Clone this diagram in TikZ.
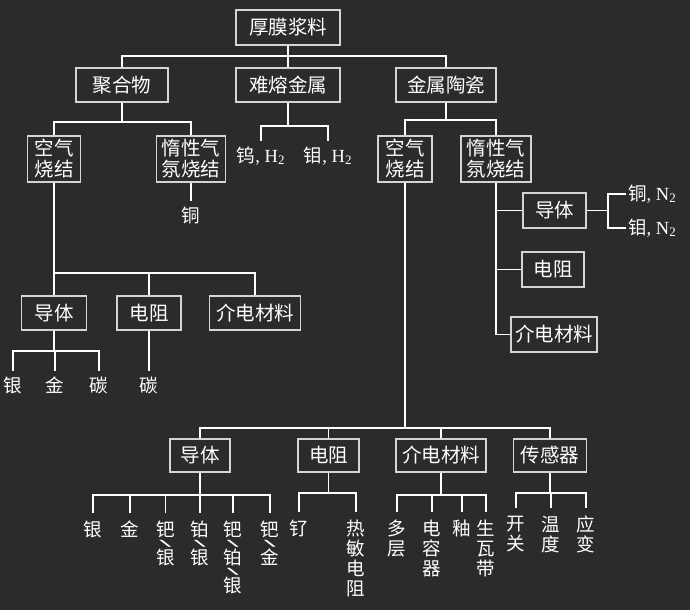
\documentclass[tikz,border=0pt]{standalone}
\usepackage{fontspec}
\setmainfont{Liberation Serif}
\newfontfamily\cjk{Noto Sans CJK SC}
\newfontfamily\slf{DejaVu Sans}
\definecolor{bgc}{HTML}{2B2B2B}
\definecolor{boxc}{HTML}{D4D4D4}
\newcommand{\vsl}{\\[-10pt]{\slf\fontsize{17}{17}\selectfont\scalebox{2.1}[0.5]{\textbackslash}}\\[-2pt]}
\tikzset{
  box/.style={draw=boxc, line width=1.1pt, fill=bgc, text=white, inner sep=0pt, align=center,
    font=\cjk\fontsize{19.5}{21}\selectfont},
  conn/.style={draw=white, line width=1.6pt},
  leaf/.style={text=white, inner xsep=2pt, inner ysep=5.5pt, align=center, anchor=north,
    font=\cjk\fontsize{18.5}{20}\selectfont},
  leafb/.style={leaf, inner ysep=8pt},
}
\begin{document}
\begin{tikzpicture}[x=1pt,y=-1pt]
\fill[bgc] (0,0) rectangle (690,610);
\useasboundingbox (0,0) rectangle (690,610);

% boxes
\node[box, minimum width=104pt, minimum height=35pt] (root) at (288,27.5) {厚膜浆料};
\node[box, minimum width=92pt, minimum height=34pt] (poly) at (122,85) {聚合物};
\node[box, minimum width=104pt, minimum height=34pt] (refr) at (288,85) {难熔金属};
\node[box, minimum width=100pt, minimum height=34pt] (cer) at (446,85) {金属陶瓷};
\node[box, minimum width=53pt, minimum height=46pt] (lair) at (54,159) {空气\\烧结};
\node[box, minimum width=69pt, minimum height=46pt] (linert) at (191,159) {惰性气\\氛烧结};
\node[box, minimum width=54pt, minimum height=46pt] (rair) at (405,159) {空气\\烧结};
\node[box, minimum width=70pt, minimum height=46pt] (rinert) at (496,159) {惰性气\\氛烧结};

\node[box, minimum width=65pt, minimum height=34pt] (lcond) at (54,313) {导体};
\node[box, minimum width=64pt, minimum height=34pt] (lres) at (149,313) {电阻};
\node[box, minimum width=91pt, minimum height=34pt] (ldiel) at (255,313) {介电材料};

\node[box, minimum width=63pt, minimum height=35pt] (rcond) at (554.5,210.5) {导体};
\node[box, minimum width=62pt, minimum height=35pt] (rres) at (553,269.5) {电阻};
\node[box, minimum width=86pt, minimum height=35pt] (rdiel) at (554,334.5) {介电材料};

\node[box, minimum width=60pt, minimum height=33pt] (bcond) at (200,455.5) {导体};
\node[box, minimum width=61pt, minimum height=33pt] (bres) at (328.5,455.5) {电阻};
\node[box, minimum width=90pt, minimum height=33pt] (bdiel) at (441,455.5) {介电材料};
\node[box, minimum width=73pt, minimum height=33pt] (bsens) at (550,455.5) {传感器};

% leaves
\node[leaf] (w) at (261,141) {钨{\rmfamily, H\textsubscript{2}}};
\node[leaf] (mo) at (328,141) {钼{\rmfamily, H\textsubscript{2}}};
\node[leaf] (cu) at (191,201) {铜};
\node[leaf, anchor=west] (cuN) at (626,194) {铜{\rmfamily, N\textsubscript{2}}};
\node[leaf, anchor=west] (moN) at (626,228) {钼{\rmfamily, N\textsubscript{2}}};

\node[leaf] (ag1) at (13,371) {银};
\node[leaf] (au1) at (55,371) {金};
\node[leaf] (c1) at (99,371) {碳};
\node[leaf] (c2) at (149,371) {碳};

\node[leafb] (ag2) at (93,513) {银};
\node[leafb] (au2) at (130,513) {金};
\node[leafb] (pdag) at (165.5,513) {钯\vsl 银};
\node[leafb] (ptag) at (200,513) {铂\vsl 银};
\node[leafb] (pdptag) at (233,513) {钯\vsl 铂\vsl 银};
\node[leafb] (pdau) at (270,513) {钯\vsl 金};

\node[leafb] (ru) at (299,512) {钌};
\node[leafb] (thr) at (356,512) {热\\敏\\电\\阻};

\node[leafb] (ml) at (397,512) {多\\层};
\node[leafb] (cap) at (432,512) {电\\容\\器};
\node[leafb] (gl) at (462,512) {釉};
\node[leafb] (gt) at (486,512) {生\\瓦\\带};

\node[leafb] (sw) at (516,508) {开\\关};
\node[leafb] (tp) at (551,508) {温\\度};
\node[leafb] (st) at (586,508) {应\\变};

% connectors
\coordinate (j0) at (288,56);
\draw[conn] (root.south) -- (refr.north);
\draw[conn] (poly.north) |- (j0) -| (cer.north);

\coordinate (j1) at (122,122);
\draw[conn] (poly.south) -- (j1);
\draw[conn] (lair.north) |- (j1) -| (linert.north);

\coordinate (j2) at (288,126);
\draw[conn] (refr.south) -- (j2);
\draw[conn] (w.north) |- (j2) -| (mo.north);

\draw[conn] (linert.south) -- (cu.north);

\coordinate (j3) at (54,273);
\draw[conn] (lair.south) -- (lcond.north);
\draw[conn] (lcond.north |- j3) -| (ldiel.north);
\draw[conn] (lres.north) -- (lres.north |- j3);

\coordinate (j3a) at (54,351);
\draw[conn] (lcond.south) -- (j3a);
\draw[conn] (ag1.north) |- (j3a) -| (c1.north);
\draw[conn] (au1.north) -- (au1.north |- j3a);
\draw[conn] (lres.south) -- (c2.north);

\coordinate (j4) at (446,120);
\draw[conn] (cer.south) -- (j4);
\draw[conn] (rair.north) |- (j4) -| (rinert.north);

\draw[conn] (rinert.south) |- (rdiel.west);
\draw[conn] (rcond.west) -- (rcond.west -| rinert.south);
\draw[conn] (rres.west) -- (rres.west -| rinert.south);

\coordinate (j6) at (608,210.5);
\draw[conn] (rcond.east) -- (j6);
\draw[conn] (cuN.west) -| (j6);
\draw[conn] (moN.west) -| (j6);

\coordinate (j7) at (405,428);
\draw[conn] (rair.south) -- (j7);
\draw[conn] (bcond.north) |- (j7) -| (bsens.north);
\draw[conn] (bres.north) -- (bres.north |- j7);
\draw[conn] (bdiel.north) -- (bdiel.north |- j7);

\coordinate (k1) at (200,495);
\draw[conn] (bcond.south) -- (k1);
\draw[conn] (ag2.north) |- (k1) -| (pdau.north);
\draw[conn] (au2.north) -- (au2.north |- k1);
\draw[conn] (pdag.north) -- (pdag.north |- k1);
\draw[conn] (ptag.north) -- (ptag.north |- k1);
\draw[conn] (pdptag.north) -- (pdptag.north |- k1);

\coordinate (k2) at (328.5,493);
\draw[conn] (bres.south) -- (k2);
\draw[conn] (ru.north) |- (k2) -| (thr.north);

\coordinate (k3) at (441,495);
\draw[conn] (bdiel.south) -- (k3);
\draw[conn] (ml.north) |- (k3) -| (gt.north);
\draw[conn] (cap.north) -- (cap.north |- k3);
\draw[conn] (gl.north) -- (gl.north |- k3);

\coordinate (k4) at (550,493);
\draw[conn] (bsens.south) -- (k4);
\draw[conn] (sw.north) |- (k4) -| (st.north);
\draw[conn] (tp.north) -- (tp.north |- k4);
\end{tikzpicture}
\end{document}
